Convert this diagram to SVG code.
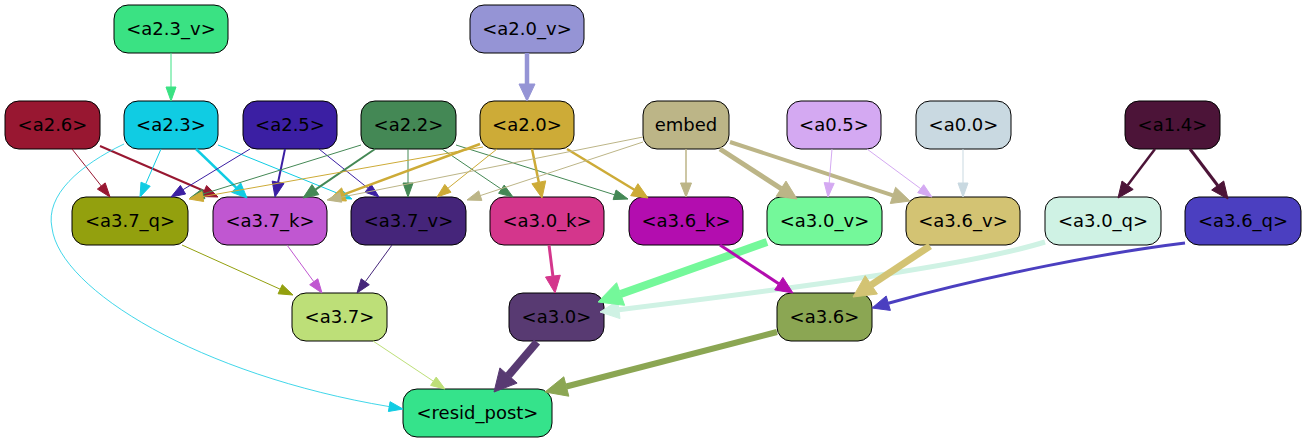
<svg xmlns="http://www.w3.org/2000/svg" width="1307" height="443" viewBox="0 0 1307 443">
<style>
  .node rect { stroke: #000; stroke-width: 1; }
  .node text { font-family: "DejaVu Sans", "Liberation Sans", sans-serif; font-size: 18px; text-anchor: middle; fill: #000; }
  #edges path { fill: none; }
  #edges polygon { stroke-width: 1; }
  .c-a23v { stroke: #3ae283; fill: #3ae283; }
  .c-a20v { stroke: #9594d5; fill: #9594d5; }
  .c-a26 { stroke: #981731; fill: #981731; }
  .c-a23 { stroke: #10cce3; fill: #10cce3; }
  .c-a25 { stroke: #3b1fa3; fill: #3b1fa3; }
  .c-a22 { stroke: #448855; fill: #448855; }
  .c-a20 { stroke: #cdab37; fill: #cdab37; }
  .c-emb { stroke: #bcb587; fill: #bcb587; }
  .c-a05 { stroke: #d4a9f2; fill: #d4a9f2; }
  .c-a00 { stroke: #c9d9e1; fill: #c9d9e1; }
  .c-a14 { stroke: #4c1438; fill: #4c1438; }
  .c-a37q { stroke: #93a00e; fill: #93a00e; }
  .c-a37k { stroke: #c057d1; fill: #c057d1; }
  .c-a37v { stroke: #45257a; fill: #45257a; }
  .c-a30k { stroke: #d4368c; fill: #d4368c; }
  .c-a36k { stroke: #b30daf; fill: #b30daf; }
  .c-a30v { stroke: #74f89a; fill: #74f89a; }
  .c-a36v { stroke: #d3c373; fill: #d3c373; }
  .c-a30q { stroke: #cff2e4; fill: #cff2e4; }
  .c-a36q { stroke: #4b3fc0; fill: #4b3fc0; }
  .c-a37 { stroke: #bddf78; fill: #bddf78; }
  .c-a30 { stroke: #583a72; fill: #583a72; }
  .c-a36 { stroke: #8ba653; fill: #8ba653; }
</style>
<rect width="1307" height="443" fill="#fff"/>

<!-- nodes -->
<g id="n-a2.3_v" class="node"><rect x="114" y="5" width="114" height="48" rx="14" fill="#3ae283"/><text x="171" y="35">&lt;a2.3_v&gt;</text></g>
<g id="n-a2.0_v" class="node"><rect x="470" y="5" width="114" height="48" rx="14" fill="#9594d5"/><text x="527" y="35">&lt;a2.0_v&gt;</text></g>

<g id="n-a2.6" class="node"><rect x="5" y="101" width="95" height="48" rx="14" fill="#981731"/><text x="52.5" y="131">&lt;a2.6&gt;</text></g>
<g id="n-a2.3" class="node"><rect x="124" y="101" width="94" height="48" rx="14" fill="#10cce3"/><text x="171" y="131">&lt;a2.3&gt;</text></g>
<g id="n-a2.5" class="node"><rect x="243" y="101" width="94" height="48" rx="14" fill="#3b1fa3"/><text x="290" y="131">&lt;a2.5&gt;</text></g>
<g id="n-a2.2" class="node"><rect x="361" y="101" width="95" height="48" rx="14" fill="#448855"/><text x="408.5" y="131">&lt;a2.2&gt;</text></g>
<g id="n-a2.0" class="node"><rect x="480" y="101" width="94" height="48" rx="14" fill="#cdab37"/><text x="527" y="131">&lt;a2.0&gt;</text></g>
<g id="n-embed" class="node"><rect x="643" y="101" width="86" height="48" rx="14" fill="#bcb587"/><text x="686" y="131">embed</text></g>
<g id="n-a0.5" class="node"><rect x="787" y="101" width="94" height="48" rx="14" fill="#d4a9f2"/><text x="834" y="131">&lt;a0.5&gt;</text></g>
<g id="n-a0.0" class="node"><rect x="916" y="101" width="95" height="48" rx="14" fill="#c9d9e1"/><text x="963.5" y="131">&lt;a0.0&gt;</text></g>
<g id="n-a1.4" class="node"><rect x="1125" y="101" width="95" height="48" rx="14" fill="#4c1438"/><text x="1172.5" y="131">&lt;a1.4&gt;</text></g>

<g id="n-a3.7_q" class="node"><rect x="72" y="197" width="116" height="48" rx="14" fill="#93a00e"/><text x="130" y="227">&lt;a3.7_q&gt;</text></g>
<g id="n-a3.7_k" class="node"><rect x="213" y="197" width="114" height="48" rx="14" fill="#c057d1"/><text x="270" y="227">&lt;a3.7_k&gt;</text></g>
<g id="n-a3.7_v" class="node"><rect x="351" y="197" width="115" height="48" rx="14" fill="#45257a"/><text x="408.5" y="227">&lt;a3.7_v&gt;</text></g>
<g id="n-a3.0_k" class="node"><rect x="490" y="197" width="114" height="48" rx="14" fill="#d4368c"/><text x="547" y="227">&lt;a3.0_k&gt;</text></g>
<g id="n-a3.6_k" class="node"><rect x="629" y="197" width="114" height="48" rx="14" fill="#b30daf"/><text x="686" y="227">&lt;a3.6_k&gt;</text></g>
<g id="n-a3.0_v" class="node"><rect x="767" y="197" width="115" height="48" rx="14" fill="#74f89a"/><text x="824.5" y="227">&lt;a3.0_v&gt;</text></g>
<g id="n-a3.6_v" class="node"><rect x="906" y="197" width="114" height="48" rx="14" fill="#d3c373"/><text x="963" y="227">&lt;a3.6_v&gt;</text></g>
<g id="n-a3.0_q" class="node"><rect x="1045" y="197" width="116" height="48" rx="14" fill="#cff2e4"/><text x="1103" y="227">&lt;a3.0_q&gt;</text></g>
<g id="n-a3.6_q" class="node"><rect x="1185" y="197" width="116" height="48" rx="14" fill="#4b3fc0"/><text x="1243" y="227">&lt;a3.6_q&gt;</text></g>

<g id="n-a3.7" class="node"><rect x="292" y="293" width="95" height="48" rx="14" fill="#bddf78"/><text x="339.5" y="323">&lt;a3.7&gt;</text></g>
<g id="n-a3.0" class="node"><rect x="509" y="293" width="95" height="48" rx="14" fill="#583a72"/><text x="556.5" y="323">&lt;a3.0&gt;</text></g>
<g id="n-a3.6" class="node"><rect x="777" y="293" width="95" height="48" rx="14" fill="#8ba653"/><text x="824.5" y="323">&lt;a3.6&gt;</text></g>

<g id="n-resid_post" class="node"><rect x="403" y="389" width="149" height="48" rx="14" fill="#35e38b"/><text x="477.5" y="419">&lt;resid_post&gt;</text></g>

<!-- connectors: each is a stroke plus a filled arrowhead -->
<g id="edges">
  <path class="c-a23v" stroke-width="1" d="M171,53 L171,87"/>
  <polygon class="c-a23v" points="171,101 166,87 176,87"/>

  <path class="c-a20v" stroke-width="4.5" d="M527,53 L527,84"/>
  <polygon class="c-a20v" points="527,101 519,84 535,84"/>

  <path class="c-a26" stroke-width="1" d="M72,149 L101.3,186"/>
  <polygon class="c-a26" points="110,197 97.4,189.1 105.2,182.9"/>
  <path class="c-a26" stroke-width="2" d="M100,146 L204.2,191"/>
  <polygon class="c-a26" points="218,197 201.8,196.5 206.6,185.5"/>

  <path class="c-a23" stroke-width="1" d="M161,149 L145.6,184.2"/>
  <polygon class="c-a23" points="140,197 141,182.2 150.2,186.2"/>
  <path class="c-a23" stroke-width="2.5" d="M196,149 L236.2,187.6"/>
  <polygon class="c-a23" points="247,198 231.7,192.3 240.7,182.9"/>
  <path class="c-a23" stroke-width="1" d="M218,145 L339,193.8"/>
  <polygon class="c-a23" points="352,199 337.1,198.4 340.9,189.2"/>
  <path class="c-a23" stroke-width="0.8" d="M124,144 C80,165 45,195 52,228 C60,290 200,375 389.2,406.6"/>
  <polygon class="c-a23" points="403,409 388.4,411.5 390.1,401.7"/>

  <path class="c-a25" stroke-width="1" d="M250,149 L183,189.7"/>
  <polygon class="c-a25" points="171,197 180.4,185.4 185.6,194"/>
  <path class="c-a25" stroke-width="2" d="M285,149 L278.1,182.3"/>
  <polygon class="c-a25" points="275,197 272.2,181.1 284,183.5"/>
  <path class="c-a25" stroke-width="1" d="M319,149 L368.1,188.3"/>
  <polygon class="c-a25" points="379,197 365,192.2 371.2,184.4"/>

  <path class="c-a22" stroke-width="1" d="M361,145 L203.4,193.9"/>
  <polygon class="c-a22" points="190,198 201.9,189.1 204.9,198.7"/>
  <path class="c-a22" stroke-width="2" d="M375,149 L315.4,189.6"/>
  <polygon class="c-a22" points="303,198 312,184.6 318.8,194.6"/>
  <path class="c-a22" stroke-width="1" d="M408,149 L408,183"/>
  <polygon class="c-a22" points="408,197 403,183 413,183"/>
  <path class="c-a22" stroke-width="1" d="M442,149 L501.4,189.2"/>
  <polygon class="c-a22" points="513,197 498.6,193.3 504.2,185.1"/>
  <path class="c-a22" stroke-width="1" d="M456,145 L614.6,194.8"/>
  <polygon class="c-a22" points="628,199 613.1,199.6 616.1,190"/>

  <path class="c-a20" stroke-width="1" d="M483,147 L202.8,196.6"/>
  <polygon class="c-a20" points="189,199 201.9,191.6 203.7,201.5"/>
  <path class="c-a20" stroke-width="2.5" d="M480,144 L344,194.4"/>
  <polygon class="c-a20" points="329,200 341.6,187.9 346.4,201"/>
  <path class="c-a20" stroke-width="1" d="M497,149 L447.9,188.3"/>
  <polygon class="c-a20" points="437,197 444.8,184.4 451,192.2"/>
  <path class="c-a20" stroke-width="2.5" d="M532,149 L538.8,182.3"/>
  <polygon class="c-a20" points="542,198 531.9,183.7 545.7,180.9"/>
  <path class="c-a20" stroke-width="2.5" d="M567,149 L634.3,189.7"/>
  <polygon class="c-a20" points="648,198 630.7,195.7 637.9,183.7"/>

  <path class="c-emb" stroke-width="1" d="M643,137 L340.7,197.3"/>
  <polygon class="c-emb" points="327,200 339.7,192.4 341.7,202.2"/>
  <path class="c-emb" stroke-width="1" d="M643,142 L480.3,195.6"/>
  <polygon class="c-emb" points="467,200 478.7,190.9 481.9,200.4"/>
  <path class="c-emb" stroke-width="1.5" d="M686,149 L686,183"/>
  <polygon class="c-emb" points="686,197 680.5,183 691.5,183"/>
  <path class="c-emb" stroke-width="5" d="M720,149 L781.1,188.6"/>
  <polygon class="c-emb" points="797,199 776.2,196.2 786,181.1"/>
  <path class="c-emb" stroke-width="4" d="M730,142 L892.9,195.4"/>
  <polygon class="c-emb" points="910,201 890.3,203.5 895.6,187.3"/>

  <path class="c-a05" stroke-width="1" d="M832,149 L829.2,183"/>
  <polygon class="c-a05" points="828,197 824.2,182.6 834.2,183.4"/>
  <path class="c-a05" stroke-width="1" d="M867,149 L920.7,188.7"/>
  <polygon class="c-a05" points="932,197 917.7,192.7 923.7,184.7"/>

  <path class="c-a00" stroke-width="1" d="M963,149 L963,183"/>
  <polygon class="c-a00" points="963,197 958,183 968,183"/>

  <path class="c-a14" stroke-width="2.5" d="M1155,149 L1127.6,185.2"/>
  <polygon class="c-a14" points="1118,198 1122,181 1133.2,189.4"/>
  <path class="c-a14" stroke-width="3" d="M1190,149 L1217.7,185.5"/>
  <polygon class="c-a14" points="1228,199 1211.7,190 1223.7,181"/>

  <path class="c-a37q" stroke-width="1" d="M182,245 L280.2,289.2"/>
  <polygon class="c-a37q" points="293,295 278.1,293.8 282.3,284.7"/>
  <path class="c-a37k" stroke-width="1" d="M287,245 L313.8,281.7"/>
  <polygon class="c-a37k" points="322,293 309.7,284.7 317.8,278.8"/>
  <path class="c-a37v" stroke-width="1" d="M392,245 L365.3,281.7"/>
  <polygon class="c-a37v" points="357,293 361.2,278.8 369.3,284.7"/>
  <path class="c-a37" stroke-width="1" d="M373,341 L433.4,381.2"/>
  <polygon class="c-a37" points="445,389 430.6,385.4 436.2,377.1"/>

  <path class="c-a30k" stroke-width="3" d="M549,245 L552.9,276.1"/>
  <polygon class="c-a30k" points="555,293 545.5,277 560.3,275.2"/>
  <path class="c-a30q" stroke-width="5" d="M1045,242 C980,262 860,280 618.9,309.7"/>
  <polygon class="c-a30q" points="600,312 617.8,300.8 620,318.6"/>
  <path class="c-a30v" stroke-width="8" d="M767,242 L620.6,294"/>
  <polygon class="c-a30v" points="598,302 616.6,282.7 624.6,305.3"/>

  <path class="c-a36k" stroke-width="3" d="M720,245 L778.8,283.7"/>
  <polygon class="c-a36k" points="793,293 774.7,289.9 782.9,277.4"/>
  <path class="c-a36v" stroke-width="7" d="M930,246 L871.3,284.9"/>
  <polygon class="c-a36v" points="853,297 865.2,275.7 877.4,294"/>
  <path class="c-a36q" stroke-width="3" d="M1185,243 C1110,252 990,275 888.3,303.2"/>
  <polygon class="c-a36q" points="872,308 886.2,296 890.4,310.4"/>

  <path class="c-a30" stroke-width="8" d="M537,342 L508.5,375.5"/>
  <polygon class="c-a30" points="494,392 499.9,367.9 517.1,383.1"/>
  <path class="c-a36" stroke-width="6" d="M777,332 L566.3,386.5"/>
  <polygon class="c-a36" points="545,392 563.8,376.8 568.8,396.2"/>
</g>
</svg>
